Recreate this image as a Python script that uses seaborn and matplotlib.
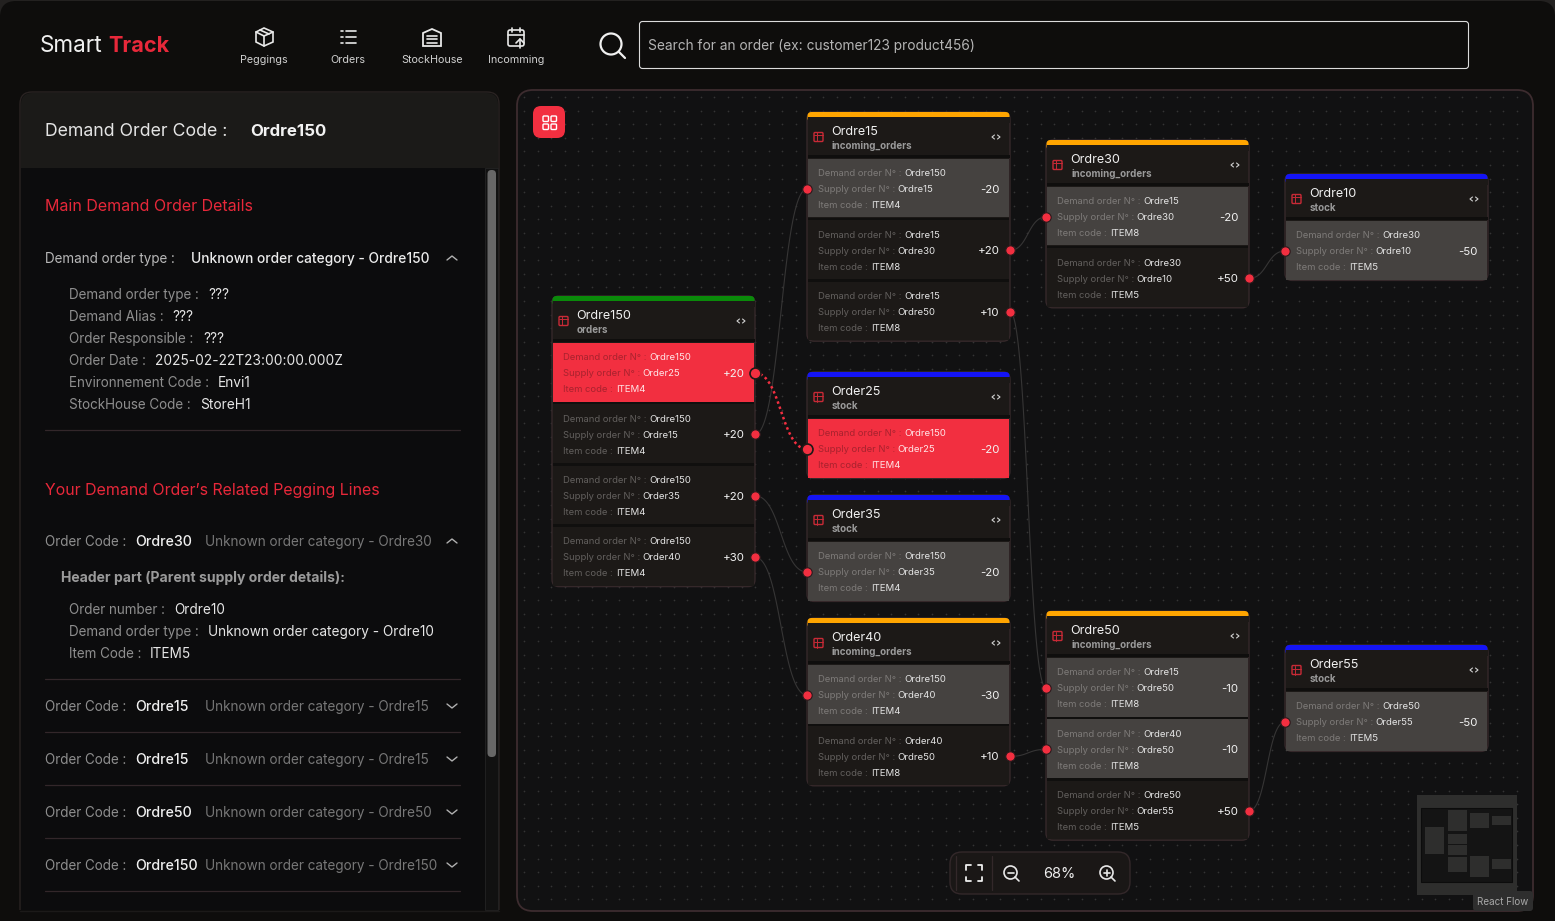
import numpy as np
import pandas as pd
import matplotlib
matplotlib.use("Agg")
import matplotlib.pyplot as plt
import seaborn as sns
from matplotlib.patches import FancyBboxPatch, Rectangle, Circle, Polygon

## Data
node_names = ["Ordre150", "Ordre15", "Ordre30", "Ordre10", "Order25", "Order35", "Order40", "Ordre50", "Order55"]
node_types = ["orders", "incoming_orders", "incoming_orders", "stock", "stock", "stock", "incoming_orders", "incoming_orders", "stock"]
node_demand = [["Ordre150", "Ordre150", "Ordre150", "Ordre150"], ["Ordre150", "Ordre15", "Ordre15"], ["Ordre15", "Ordre30"],
               ["Ordre30"], ["Ordre150"], ["Ordre150"], ["Ordre150", "Order40"], ["Ordre15", "Order40", "Ordre50"], ["Ordre50"]]
node_supply = [["Order25", "Ordre15", "Order35", "Order40"], ["Ordre15", "Ordre30", "Ordre50"], ["Ordre30", "Ordre10"],
               ["Ordre10"], ["Order25"], ["Order35"], ["Order40", "Ordre50"], ["Ordre50", "Ordre50", "Order55"], ["Order55"]]
node_items = [["ITEM4", "ITEM4", "ITEM4", "ITEM4"], ["ITEM4", "ITEM8", "ITEM8"], ["ITEM8", "ITEM5"],
              ["ITEM5"], ["ITEM4"], ["ITEM4"], ["ITEM4", "ITEM8"], ["ITEM8", "ITEM8", "ITEM5"], ["ITEM5"]]
node_qty = [[20, 20, 20, 30], [-20, 20, 10], [-20, 50], [-50], [-20], [-20], [-30, 10], [-10, -10, 50], [-50]]
edges_from = [("Ordre150", 1), ("Ordre150", 2), ("Ordre150", 3), ("Ordre15", 1), ("Ordre15", 2), ("Ordre30", 1), ("Order40", 1), ("Ordre50", 2)]
edges_to = [("Ordre15", 0), ("Order35", 0), ("Order40", 0), ("Ordre30", 0), ("Ordre50", 0), ("Ordre10", 0), ("Ordre50", 1), ("Order55", 0)]
selected_from = ("Ordre150", 0)
selected_to = ("Order25", 0)
nav_labels = ["Peggings", "Orders", "StockHouse", "Incomming"]
main_labels = ["Demand order type :", "Demand Alias :", "Order Responsible :", "Order Date :", "Environnement Code :", "StockHouse Code :"]
main_values = ["???", "???", "???", "2025-02-22T23:00:00.000Z", "Envi1", "StoreH1"]
peg_codes = ["Ordre30", "Ordre15", "Ordre15", "Ordre50", "Ordre150"]
parent_labels = ["Order number :", "Demand order type :", "Item Code :"]
parent_values = ["Ordre10", "Unknown order category - Ordre10", "ITEM5"]

## Layout in pixels
node_left = [552, 807, 1046, 1285, 807, 807, 807, 1046, 1285]
node_top = [296, 112, 140, 174, 372, 495, 618, 611, 645]
main_value_x = [208, 172, 203, 155, 218, 200]
main_y = [294, 316, 338, 360, 382, 404]
peg_y = [541, 706, 759, 812, 865]
parent_y = [609, 631, 653]
parent_value_x = [174, 208, 150]
nav_x = [264, 348, 432, 516]
W, H = 1555, 921
NODE_W = 203
ROW = 61.4
RED = "#f22f40"
BORDER = "#35282a"
accent = {"orders": "#0a8a0a", "incoming_orders": "#ffa500", "stock": "#1414f5"}

sns.set_theme(style="dark")
plt.rcParams["font.family"] = ["Inter", "DejaVu Sans"]

fig = plt.figure(figsize=(W / 100, H / 100), dpi=100, facecolor="#232120")
ax = fig.add_axes([0, 0, 1, 1])
ax.set_axis_off()


def box(x0, y0, x1, y1, fc, ec="none", r=0, lw=1.0, z=1):
    p = FancyBboxPatch((x0, y0), x1 - x0, y1 - y0, boxstyle=f"round,pad=0,rounding_size={r}", fc=fc, ec=ec, lw=lw, zorder=z)
    ax.add_patch(p)
    return p


def txt(x, y, s, size, color="#e8e8e8", ha="left", weight="normal", z=6):
    # va center sits a little high for Inter, push it down with the size
    return ax.text(x, y + size * 0.07, s, fontsize=size * 0.72, color=color, ha=ha, va="center", fontweight=weight, zorder=z)


def seg(xs, ys, color="#e8e8e8", lw=1.2, z=6):
    ax.plot(xs, ys, color=color, lw=lw, zorder=z, solid_capstyle="round")


def ring(x, y, r, color="#e8e8e8", lw=1.2, z=6):
    ax.add_patch(Circle((x, y), r, fc="none", ec=color, lw=lw, zorder=z))


def chevron(x, y, up):
    d = -3 if up else 3
    seg([x - 5, x, x + 5], [y - d / 1.5, y + d / 1.5, y - d / 1.5], "#b0b0b0", 1.0)


# page background
box(0, 1, W, 960, "#0e0d0c", r=16, z=0)

# top bar
txt(40, 44, "Smart", 22.5, "#f0f0f0")
txt(108, 44, "Track", 21.6, "#e8283a", weight="bold")
for x, lab in zip(nav_x, nav_labels):
    txt(x, 59, lab, 10.8, "#d0d0d0", ha="center")
# cube
ax.add_patch(Polygon([(264, 28), (273, 32), (273, 42), (264, 46), (256, 42), (256, 32)], fc="none", ec="#e8e8e8", lw=1.2, zorder=6))
seg([256, 264, 273], [32, 36, 32])
seg([264, 264], [36, 46])
seg([260, 269], [30, 34])
# list
for yy in [31, 37, 43]:
    seg([346, 356], [yy, yy])
    seg([341, 343], [yy, yy])
# warehouse
ax.add_patch(Polygon([(423, 33), (432, 29), (441, 33), (441, 46), (423, 46)], fc="none", ec="#e8e8e8", lw=1.3, zorder=6))
for yy in [36, 39.5, 43]:
    seg([427, 437], [yy, yy])
# calendar
box(508, 30, 524, 46, "none", "#e8e8e8", r=2, lw=1.2, z=6)
seg([508, 524], [35, 35])
seg([512, 512], [28, 32])
seg([520, 520], [28, 32])
seg([520, 520], [48, 39])
seg([516, 520, 524], [43, 39, 43])
# search
ring(611, 44, 10.5, "#f0f0f0", 1.6)
seg([619, 625], [52, 58], "#f0f0f0", 1.6)
box(639.5, 21.5, 1468.5, 68.5, "#0e0d0c", "#dcdcdc", r=3, lw=0.8, z=2)
txt(648, 45.5, "Search for an order (ex: customer123 product456)", 13.75, "#b4b4b4")

# left panel
box(20, 92, 499, 925, "#0c0c0d", "#2a2322", r=12, z=1)
box(21, 93, 498, 168, "#1b1a18", r=11, z=2)
ax.add_patch(Rectangle((21, 140), 477, 28, fc="#1b1a18", ec="none", zorder=2))
ax.add_patch(Rectangle((0, 910), 515, 15, fc="#0e0d0c", ec="none", zorder=2))
seg([20, 499], [910.5, 910.5], "#1c1a19", 1.0, 3)
txt(45, 130, "Demand Order Code :", 17.7, "#e4e4e4")
txt(250, 130, "Ordre150", 16.9, "#f2f2f2", weight="bold")
ax.add_patch(Rectangle((485, 168), 13, 742, fc="#111111", ec="#242424", lw=0.6, zorder=2))
box(487.5, 170, 496, 757, "#676767", r=4, z=3)

txt(45, 205.5, "Main Demand Order Details", 16, "#e8283a")
txt(45, 258, "Demand order type :", 13.5, "#b8b8b8")
txt(191, 258, "Unknown order category - Ordre150", 13.8, "#ececec", weight="medium")
chevron(452, 258, True)
for lab, val, vx, yy in zip(main_labels, main_values, main_value_x, main_y):
    txt(69, yy, lab, 13.5, "#8e8e8e")
    txt(vx, yy, val, 13.7, "#e6e6e6")
for yy in [430, 679, 732, 785, 838, 891]:
    seg([45, 460], [yy, yy], "#33272a", 0.9, 3)

txt(45, 489, "Your Demand Order\u2019s Related Pegging Lines", 15.9, "#e8283a")
for i, (code, yy) in enumerate(zip(peg_codes, peg_y)):
    txt(45, yy, "Order Code :", 13.5, "#8e8e8e")
    txt(135, yy, code, 14.2, "#f0f0f0", weight="medium")
    txt(205, yy, f"Unknown order category - {code}", 13.55, "#777777")
    chevron(452, yy, i == 0)
txt(61, 577, "Header part (Parent supply order details):", 14, "#9a9a9a", weight="bold")
for lab, val, vx, yy in zip(parent_labels, parent_values, parent_value_x, parent_y):
    txt(69, yy, lab, 13.5, "#8e8e8e")
    txt(vx, yy, val, 13.6, "#e6e6e6")

# flow panel
box(517, 90, 1533, 911, "#111112", "#3d2c2f", r=16, lw=1.3, z=1)

gx, gy = np.meshgrid(np.arange(524, 1530, 13.6), np.arange(97, 906, 13.6))
dots = pd.DataFrame({"x": gx.ravel(), "y": gy.ravel()})
sns.scatterplot(data=dots, x="x", y="y", s=1.5, color="#343434", linewidth=0, ax=ax, zorder=1.5, legend=False)

box(533, 106, 565, 138, RED, r=8, z=3)
for dx in [0, 8]:
    for dy in [0, 8]:
        box(543 + dx, 116 + dy, 548.5 + dx, 121.5 + dy, "none", "#ffffff", r=1, lw=1.0, z=4)


def handle_pos(name, row):
    i = node_names.index(name)
    right = node_qty[i][row] > 0
    return node_left[i] + (NODE_W if right else 0), node_top[i] + 77 + row * ROW


def edge_curve(a, b):
    # bezier between two handles, same shape as the flow library draws
    p0 = np.array(handle_pos(*a))
    p3 = np.array(handle_pos(*b))
    off = max((p3[0] - p0[0]) * 0.5, 12)
    p1 = p0 + [off, 0]
    p2 = p3 - [off, 0]
    t = np.linspace(0, 1, 50)[:, None]
    return (1 - t) ** 3 * p0 + 3 * (1 - t) ** 2 * t * p1 + 3 * (1 - t) * t ** 2 * p2 + t ** 3 * p3


rows = []
for k, (a, b) in enumerate(zip(edges_from, edges_to)):
    c = edge_curve(a, b)
    rows.append(pd.DataFrame({"x": c[:, 0], "y": c[:, 1], "edge": k}))
edge_df = pd.concat(rows)
sns.lineplot(data=edge_df, x="x", y="y", units="edge", estimator=None, sort=False, color="#363535", lw=0.8, ax=ax, zorder=2, legend=False)

# nodes
for i, name in enumerate(node_names):
    x, top = node_left[i], node_top[i]
    n = len(node_qty[i])
    bottom = top + 47 + n * ROW - 2
    box(x, top, x + NODE_W, bottom, "#1c1917", BORDER, r=7, lw=1.0, z=3)
    box(x + 0.5, top, x + NODE_W - 0.5, top + 10, accent[node_types[i]], r=4, z=3.1)
    ax.add_patch(Rectangle((x + 0.5, top + 5), NODE_W - 1, 6, fc="#1c1917", ec="none", zorder=3.2))
    box(x + 7, top + 20.5, x + 16, top + 29.5, "none", "#c82a36", r=1, lw=1.0, z=5)
    seg([x + 7, x + 16], [top + 23.5, top + 23.5], "#c82a36", 0.7)
    seg([x + 10, x + 10], [top + 20.5, top + 29.5], "#c82a36", 0.7)
    txt(x + 24.5, top + 19, name, 12.6, "#f0f0f0")
    txt(x + 25, top + 33, node_types[i], 9.8, "#9a9a9a", weight="bold")
    for side in (-1, 1):
        seg([x + 189 + side * 1.5, x + 189 + side * 4, x + 189 + side * 1.5], [top + 23, top + 25, top + 27], "#cfcfcf", 0.8)
    ax.add_patch(Rectangle((x + 0.5, top + 43), NODE_W - 1, 3, fc="#0f0e0d", ec="none", zorder=3.3))
    for r in range(n):
        ry = top + 47 + r * ROW
        sel = (name, r) in (selected_from, selected_to)
        q = node_qty[i][r]
        fc = RED if sel else ("#454240" if q < 0 else "#1c1917")
        ax.add_patch(Rectangle((x + 0.7, ry), NODE_W - 1.4, 58.5, fc=fc, ec="none", zorder=3.4))
        if r > 0:
            ax.add_patch(Rectangle((x + 0.7, ry - 2.8), NODE_W - 1.4, 2.8, fc="#100f0e", ec="none", zorder=3.4))
        lab = "#a8222e" if sel else ("#7d7a78" if q < 0 else "#625f5d")
        val = "#ffe4e6" if sel else "#e4e4e4"
        txt(x + 11, ry + 14, "Demand order N\u00b0 :", 9.4, lab)
        txt(x + 11, ry + 30, "Supply order N\u00b0 :", 9.4, lab)
        txt(x + 11, ry + 46, "Item code :", 9.4, lab)
        txt(x + 97.5, ry + 14, node_demand[i][r], 9.6, val)
        txt(x + 90.5, ry + 30, node_supply[i][r], 9.6, val)
        txt(x + 64.5, ry + 46, node_items[i][r], 9.6, val)
        txt(x + 192.5, ry + 30, f"{q:+d}", 11.5, "#f2f2f2", ha="right")

# selected edge and handles
c = edge_curve(selected_from, selected_to)
sel_df = pd.DataFrame({"x": c[:, 0], "y": c[:, 1]})
sns.lineplot(data=sel_df, x="x", y="y", estimator=None, sort=False, color=RED, lw=1.8, linestyle=(0, (1, 1.2)), ax=ax, zorder=3.6, legend=False)

h = pd.DataFrame([handle_pos(a, r) for a, r in edges_from + edges_to], columns=["x", "y"])
sns.scatterplot(data=h, x="x", y="y", s=46, color=RED, edgecolor="#2a1a1c", linewidth=0.8, ax=ax, zorder=5, legend=False)
hs = pd.DataFrame([handle_pos(*selected_from), handle_pos(*selected_to)], columns=["x", "y"])
sns.scatterplot(data=hs, x="x", y="y", s=62, color=RED, edgecolor="#1c1917", linewidth=1.2, ax=ax, zorder=5, legend=False)

# zoom controls
box(950, 852, 1130, 894, "#1a1716", "#33282a", r=12, lw=1.0, z=3)
seg([992, 992], [856, 890], "#33282a", 0.9, 4)
seg([956, 956], [856, 890], "#33282a", 0.9, 4)
for sx, sy in [(-1, -1), (1, -1), (-1, 1), (1, 1)]:
    seg([974 + sx * 8, 974 + sx * 8, 974 + sx * 3.5], [873 + sy * 3.5, 873 + sy * 8, 873 + sy * 8], "#eeeeee", 1.3)
ring(1010.5, 872.5, 6.5)
seg([1015, 1019], [877, 881])
seg([1007.5, 1013.5], [872.5, 872.5])
txt(1059, 873, "68%", 14.5, "#eeeeee", ha="center")
ring(1106.5, 872.5, 6.5)
seg([1111, 1115], [877, 881])
seg([1103.5, 1109.5], [872.5, 872.5])
seg([1106.5, 1106.5], [869.5, 875.5])

# minimap
ax.add_patch(Rectangle((1417, 795), 100, 100, fc="#2e2e2d", ec="none", zorder=3))
ax.add_patch(Rectangle((1421, 808), 91, 74, fc="#141414", ec="#0c0c0c", lw=0.8, zorder=3.1))
k = 0.092
for i in range(len(node_names)):
    nx = 1425 + (node_left[i] - 552) * k
    ny = 810 + (node_top[i] - 112) * k
    nh = (45 + len(node_qty[i]) * ROW) * k
    ax.add_patch(Rectangle((nx, ny), NODE_W * k, nh, fc="#2e2e2d", ec="none", zorder=3.2))
box(1473, 891, 1533, 911, "#2e2e2e", r=3, z=3.5)
txt(1503, 901, "React Flow", 9.8, "#a8a8a8", ha="center")

ax.set_xlim(0, W)
ax.set_ylim(H, 0)
ax.set_xlabel("")
ax.set_ylabel("")
fig.savefig("out.png", dpi=100, facecolor=fig.get_facecolor())
